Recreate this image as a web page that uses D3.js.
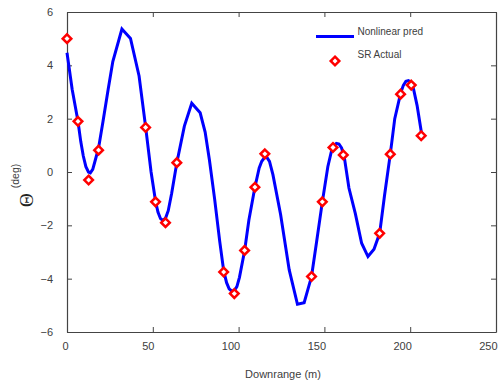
<!DOCTYPE html>
<html>
<head>
<meta charset="utf-8">
<script src="https://cdn.jsdelivr.net/npm/d3@7"></script>
<style>
  body { margin: 0; background: #fff; }
  svg { display: block; }
  text { font-family: "Liberation Sans", Arial, sans-serif; }
</style>
</head>
<body>
<svg id="chart" width="499" height="391"></svg>
<script>
// Nonlinear prediction (line)
const predX = [0, 3, 6.4, 8, 9.5, 11, 12.5, 13.6, 15, 16.5, 18.4, 21, 24, 26.7, 32, 37, 42, 45.8, 49, 51.6, 53, 54.5, 56, 57.5, 59, 61, 64, 68.4, 72.7, 77.6, 80.5, 83, 86, 89, 91.3, 93, 94.5, 96, 97.5, 99, 100.5, 103.5, 106, 109.5, 112, 113.5, 115, 116.5, 118, 120, 124.5, 129.5, 134.3, 138.2, 142.5, 145.5, 148.8, 152, 154, 155.5, 157, 158.5, 160, 161.5, 164.3, 168, 171.7, 175.4, 178.9, 182.2, 185, 188.4, 191, 194.4, 196, 197.5, 199, 200.5, 202, 204, 206.6];
const predY = [4.47, 3.1, 1.9, 1.15, 0.6, 0.2, 0.0, -0.03, 0.1, 0.45, 0.9, 1.9, 3.1, 4.14, 5.36, 5.01, 3.6, 1.7, 0.0, -1.1, -1.5, -1.75, -1.82, -1.72, -1.45, -0.8, 0.35, 1.72, 2.58, 2.22, 1.5, 0.45, -1.0, -2.6, -3.7, -4.15, -4.38, -4.47, -4.45, -4.3, -3.95, -2.95, -1.8, -0.57, 0.15, 0.4, 0.53, 0.55, 0.4, -0.1, -1.6, -3.67, -4.96, -4.9, -3.92, -2.6, -1.12, 0.2, 0.75, 0.98, 1.07, 1.05, 0.9, 0.6, -0.6, -1.55, -2.67, -3.17, -2.9, -2.3, -0.9, 0.67, 2.0, 2.95, 3.25, 3.4, 3.43, 3.36, 3.1, 2.5, 1.45];
// SR Actual (diamonds)
const actX = [0, 6.4, 12.6, 18.4, 45.8, 51.6, 57.4, 64, 91.3, 97.5, 103.5, 109.5, 115.3, 142.5, 148.8, 155, 161, 182.2, 188.4, 194.4, 200.6, 206.4];
const actY = [5.0, 1.9, -0.3, 0.82, 1.67, -1.12, -1.9, 0.35, -3.75, -4.56, -2.94, -0.57, 0.68, -3.92, -1.12, 0.92, 0.64, -2.3, 0.67, 2.92, 3.26, 1.36];
const xTicks = [0, 50, 100, 150, 200, 250];
const yTicks = [-6, -4, -2, 0, 2, 4, 6];
const seriesNames = ["Nonlinear pred", "SR Actual"];

const svg = d3.select("#chart");
const L = 67, R = 496, T = 12, B = 332;
const x = d3.scaleLinear().domain([0, 250]).range([L, R]);
const y = d3.scaleLinear().domain([-6, 6]).range([B, T]);
const axisColor = "#444";
const textColor = "#404040";

function styleAxis(g) {
  g.selectAll("path").attr("stroke", axisColor).attr("stroke-width", 1.2);
  g.selectAll("line").attr("stroke", axisColor).attr("stroke-width", 1);
  g.selectAll("text").attr("fill", textColor).style("font-size", "11px");
}

const gB = svg.append("g").attr("transform", `translate(0,${B})`)
  .call(d3.axisBottom(x).tickValues(xTicks).tickSize(-5).tickSizeOuter(0).tickPadding(10));
styleAxis(gB);
gB.selectAll("text").attr("text-anchor", "end").attr("dx", "0.1em");

const gT = svg.append("g").attr("transform", `translate(0,${T})`)
  .call(d3.axisTop(x).tickValues(xTicks).tickSize(-5).tickSizeOuter(0).tickFormat(""));
styleAxis(gT);

const gL = svg.append("g").attr("transform", `translate(${L},0)`)
  .call(d3.axisLeft(y).tickValues(yTicks).tickSize(-5).tickSizeOuter(0).tickPadding(14));
styleAxis(gL);

const gR = svg.append("g").attr("transform", `translate(${R},0)`)
  .call(d3.axisRight(y).tickValues(yTicks).tickSize(-5).tickSizeOuter(0).tickFormat(""));
styleAxis(gR);

// line
const pred = predX.map((d, i) => [d, predY[i]]);
svg.append("path")
  .datum(pred)
  .attr("fill", "none")
  .attr("stroke", "#0000ff")
  .attr("stroke-width", 3)
  .attr("stroke-linejoin", "miter")
  .attr("d", d3.line().x(d => x(d[0])).y(d => y(d[1])));

// diamonds
const act = actX.map((d, i) => [d, actY[i]]);
const diamond = "M0,-4.3L4.3,0L0,4.3L-4.3,0Z";
svg.append("g").selectAll("path")
  .data(act).join("path")
  .attr("d", diamond)
  .attr("transform", d => `translate(${x(d[0])},${y(d[1])})`)
  .attr("fill", "#fff")
  .attr("stroke", "#ff0000")
  .attr("stroke-width", 2.5);

// legend
const leg = svg.append("g");
leg.append("line").attr("x1", 316).attr("x2", 354).attr("y1", 36.5).attr("y2", 36.5)
  .attr("stroke", "#0000ff").attr("stroke-width", 3);
leg.append("text").attr("x", 357.5).attr("y", 34.5).text(seriesNames[0])
  .attr("fill", textColor).style("font-size", "10px");
leg.append("path").attr("d", diamond).attr("transform", "translate(335,61)")
  .attr("fill", "#fff").attr("stroke", "#ff0000").attr("stroke-width", 2.5);
leg.append("text").attr("x", 357.5).attr("y", 58).text(seriesNames[1])
  .attr("fill", textColor).style("font-size", "10px");

// axis titles
svg.append("text").attr("x", 283).attr("y", 378).attr("text-anchor", "middle")
  .attr("fill", textColor).style("font-size", "11px").text("Downrange (m)");

const yt = svg.append("text").attr("transform", "translate(33,207) rotate(-90)")
  .attr("fill", "#222");
yt.append("tspan").style("font-family", "'Liberation Serif', serif").style("font-size", "19px").text("Θ");
yt.append("tspan").attr("dx", 5).attr("dy", -14).style("font-size", "10.5px").attr("fill", textColor).text("(deg)");
</script>
</body>
</html>
